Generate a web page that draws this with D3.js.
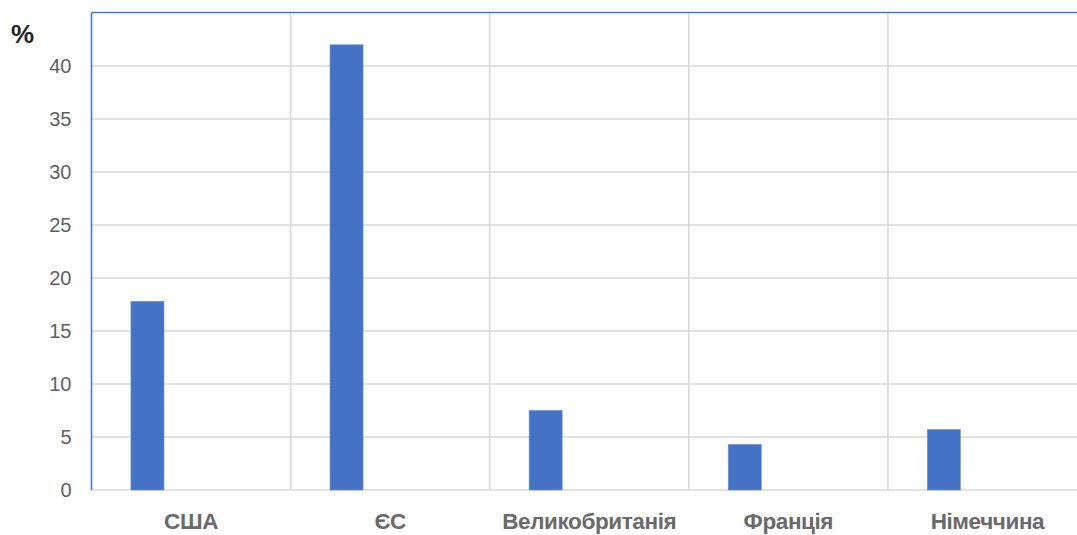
<!DOCTYPE html>
<html><head><meta charset="utf-8">
<script src="https://cdn.jsdelivr.net/npm/d3@7"></script>
<style>html,body{margin:0;padding:0;background:#fff;overflow:hidden}</style>
</head><body>
<svg id="c" width="1077" height="535"></svg>
<script>
const categories = ["США", "ЄС", "Великобританія", "Франція", "Німеччина"];
const values = [17.8, 42.0, 7.5, 4.3, 5.7];
const yTicks = [0, 5, 10, 15, 20, 25, 30, 35, 40];
const yUnit = "%";

(function () {
const svg = d3.select("#c");
const pLeft = 91.5, pRight = 91.5 + 5 * 199.1, pTop = 12.5, pBottom = 490;
const x = d3.scaleBand().domain(categories).range([pLeft, pRight]).padding(0);
const y = d3.scaleLinear().domain([0, 45]).range([pBottom, 13]);

// horizontal gridlines
svg.append("g").selectAll("line").data(yTicks.filter(d => d > 0)).join("line")
  .attr("x1", pLeft).attr("x2", pRight).attr("y1", d => y(d)).attr("y2", d => y(d))
  .attr("stroke", "#d9d9d9").attr("stroke-width", 1.6);
// vertical gridlines at category boundaries
svg.append("g").selectAll("line").data(categories.slice(1)).join("line")
  .attr("x1", d => x(d)).attr("x2", d => x(d)).attr("y1", pTop).attr("y2", pBottom)
  .attr("stroke", "#d9d9d9").attr("stroke-width", 1.6);

// bottom axis line
svg.append("line").attr("x1", pLeft).attr("x2", pRight).attr("y1", pBottom).attr("y2", pBottom)
  .attr("stroke", "#d9d9d9").attr("stroke-width", 1.6);
// top and left border (blue)
svg.append("line").attr("x1", pLeft).attr("x2", 1077).attr("y1", pTop).attr("y2", pTop)
  .attr("stroke", "#4a78c8").attr("stroke-width", 1.6);
svg.append("line").attr("x1", pLeft).attr("x2", pLeft).attr("y1", pTop).attr("y2", pBottom)
  .attr("stroke", "#4a78c8").attr("stroke-width", 1.6);

// bars
const bw = x.bandwidth();
svg.append("g").selectAll("rect").data(values).join("rect")
  .attr("x", (d, i) => x(categories[i]) + 0.198 * bw)
  .attr("width", 0.166 * bw)
  .attr("y", d => y(d))
  .attr("height", d => y(0) - y(d))
  .attr("fill", "#4472c4")
  .attr("stroke", "#6f90d0").attr("stroke-width", 0.6);

// y axis labels
const yAxis = d3.axisLeft(y).tickValues(yTicks).tickSize(0).tickPadding(20);
const ga = svg.append("g").attr("transform", `translate(${pLeft},0)`).call(yAxis);
ga.select(".domain").remove();
ga.selectAll("text").attr("font-family", "Liberation Sans, Arial, sans-serif")
  .attr("font-size", 20).attr("fill", "#5f5f5f").attr("x", -20);

// x axis labels
const xAxis = d3.axisBottom(x).tickSize(0).tickPadding(23);
const gx = svg.append("g").attr("transform", `translate(0,${pBottom})`).call(xAxis);
gx.select(".domain").remove();
gx.selectAll("text").attr("font-family", "Liberation Sans, Arial, sans-serif")
  .attr("font-size", 22.5).attr("font-weight", "bold").attr("letter-spacing", "-0.4px")
  .attr("fill", "#6a6a6a");

// unit label
svg.append("text").attr("x", 11).attr("y", 43).text(yUnit)
  .attr("font-family", "Liberation Sans, Arial, sans-serif")
  .attr("font-size", 26).attr("font-weight", "bold").attr("fill", "#222");
})();
</script>
</body></html>
